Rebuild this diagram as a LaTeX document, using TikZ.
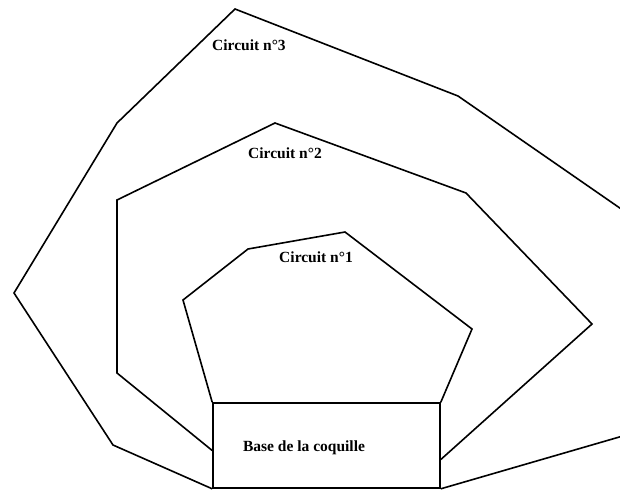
\documentclass[tikz,border=0pt]{standalone}
\usepackage{fontspec}
\setmainfont{Liberation Serif}
\usepackage{tikz}

\begin{document}
\begin{tikzpicture}[x=1pt,y=-1pt,line width=1.6pt,line join=miter]
		\useasboundingbox (0,0) rectangle (620,490);
		\clip (0,0) rectangle (620,490);

		\begin{scope}[every node/.style={font=\bfseries\fontsize{15.5}{18}\selectfont,inner sep=0pt}]
		    \node[draw,minimum width=227pt,minimum height=85pt] (b) at (326.5,445.5) {};
		    \node (tb) at (304,448) {Base de la coquille};
		    \node (t1) at (316,257) {Circuit n°1};
		    \node (t2) at (285,153) {Circuit n°2};
		    \node (t3) at (249,45) {Circuit n°3};
		\end{scope}

		% circuits
		\draw (b.north west) -- (183,300) -- (248,249) -- (345,232) -- (472,329) -- (b.north east);
		\draw ([yshift=-5pt]b.west) -- (117,373) -- (117,200) -- (275,123) -- (466,193) -- (592,324) -- ([yshift=-14pt]b.east);
		\draw (b.south west) -- (113,445) -- (14,293) -- (117,123) -- (235,9) -- (458,96) -- (640,222);
		\draw (b.south east) -- (640,431);
\end{tikzpicture}
\end{document}
